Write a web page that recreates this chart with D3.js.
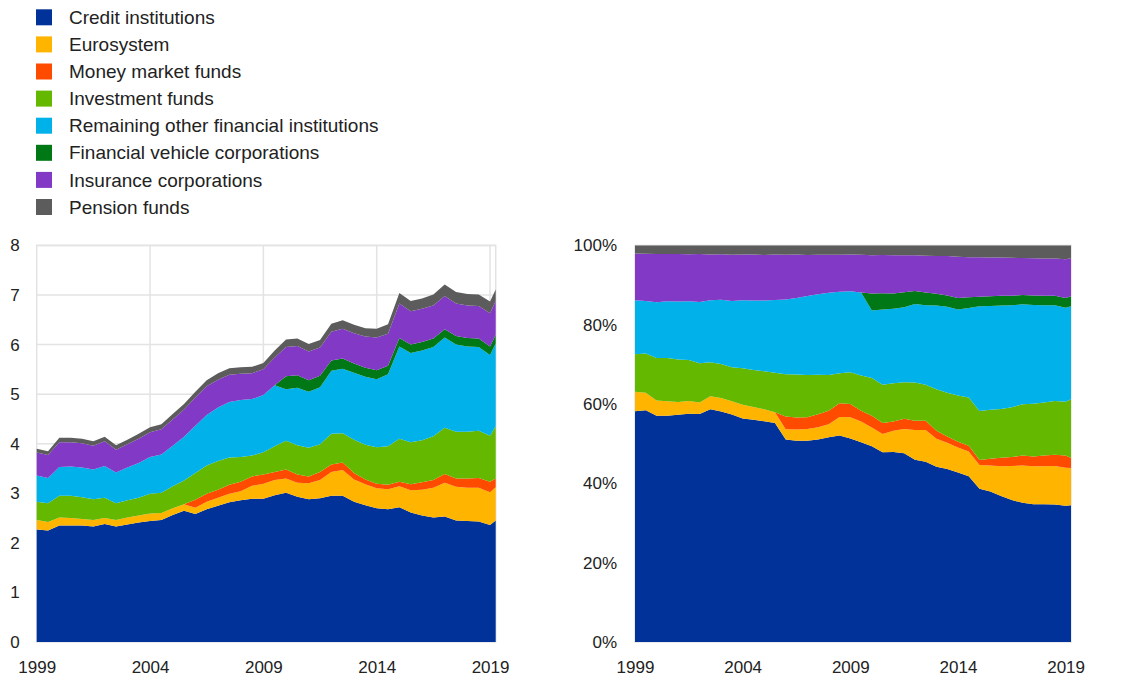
<!DOCTYPE html>
<html>
<head>
<meta charset="utf-8">
<script src="https://cdn.jsdelivr.net/npm/d3@7"></script>
<style>
  body { margin: 0; background: #fff; }
  svg { display: block; font-family: "Liberation Sans", Arial, sans-serif; }
  .axis text { fill: #222; }
  .axis .domain { display: none; }
</style>
</head>
<body>
<svg width="1121" height="679"></svg>
<script>
// half-yearly observations, last point is 2019 Q2
var dates = [1999, 1999.5, 2000, 2000.5, 2001, 2001.5, 2002, 2002.5, 2003, 2003.5,
             2004, 2004.5, 2005, 2005.5, 2006, 2006.5, 2007, 2007.5, 2008, 2008.5,
             2009, 2009.5, 2010, 2010.5, 2011, 2011.5, 2012, 2012.5, 2013, 2013.5,
             2014, 2014.5, 2015, 2015.5, 2016, 2016.5, 2017, 2017.5, 2018, 2018.5,
             2019, 2019.25];

var seriesNames = ["Credit institutions", "Eurosystem", "Money market funds", "Investment funds",
                   "Remaining other financial institutions", "Financial vehicle corporations",
                   "Insurance corporations", "Pension funds"];

var creditInstitutions = [2.27, 2.25, 2.35, 2.35, 2.35, 2.33, 2.38, 2.33, 2.37, 2.41,
                          2.44, 2.46, 2.56, 2.65, 2.58, 2.68, 2.75, 2.82, 2.86, 2.89,
                          2.89, 2.96, 3.01, 2.93, 2.88, 2.90, 2.95, 2.95, 2.83, 2.76,
                          2.70, 2.68, 2.72, 2.61, 2.55, 2.51, 2.53, 2.45, 2.44, 2.43,
                          2.36, 2.45];
var eurosystem = [0.19, 0.17, 0.16, 0.15, 0.13, 0.13, 0.12, 0.13, 0.14, 0.14,
                  0.15, 0.14, 0.14, 0.13, 0.13, 0.15, 0.16, 0.17, 0.18, 0.26,
                  0.30, 0.31, 0.29, 0.28, 0.32, 0.37, 0.48, 0.52, 0.45, 0.42,
                  0.40, 0.40, 0.42, 0.45, 0.52, 0.60, 0.68, 0.68, 0.67, 0.68,
                  0.66, 0.67];
var moneyMarketFunds = [0, 0, 0, 0, 0, 0, 0, 0, 0, 0,
                        0, 0, 0, 0, 0.16, 0.16, 0.16, 0.18, 0.19, 0.19,
                        0.19, 0.16, 0.18, 0.17, 0.14, 0.16, 0.15, 0.15, 0.13, 0.10,
                        0.09, 0.09, 0.09, 0.12, 0.15, 0.16, 0.18, 0.17, 0.19, 0.20,
                        0.21, 0.18];
var investmentFunds = [0.37, 0.38, 0.44, 0.45, 0.44, 0.42, 0.41, 0.34, 0.35, 0.36,
                       0.40, 0.41, 0.44, 0.48, 0.54, 0.57, 0.58, 0.55, 0.50, 0.42,
                       0.45, 0.52, 0.58, 0.59, 0.58, 0.56, 0.62, 0.59, 0.67, 0.70,
                       0.74, 0.78, 0.87, 0.85, 0.85, 0.88, 0.93, 0.94, 0.94, 0.95,
                       0.93, 1.05];
var remainingOfi = [0.53, 0.51, 0.58, 0.59, 0.60, 0.60, 0.64, 0.62, 0.66, 0.70,
                    0.74, 0.77, 0.82, 0.88, 0.95, 1.02, 1.08, 1.12, 1.15, 1.14,
                    1.15, 1.23, 1.04, 1.16, 1.13, 1.15, 1.27, 1.30, 1.35, 1.37,
                    1.37, 1.45, 1.86, 1.80, 1.81, 1.80, 1.82, 1.76, 1.72, 1.69,
                    1.63, 1.67];
var financialVehicles = [0, 0, 0, 0, 0, 0, 0, 0, 0, 0,
                         0, 0, 0, 0, 0, 0, 0, 0, 0, 0,
                         0, 0, 0.26, 0.25, 0.23, 0.23, 0.21, 0.21, 0.19, 0.18,
                         0.18, 0.17, 0.17, 0.17, 0.17, 0.17, 0.17, 0.17, 0.17, 0.17,
                         0.17, 0.18];
var insurance = [0.46, 0.46, 0.50, 0.49, 0.49, 0.48, 0.50, 0.46, 0.47, 0.49,
                 0.50, 0.51, 0.53, 0.55, 0.57, 0.58, 0.56, 0.55, 0.53, 0.52,
                 0.52, 0.56, 0.59, 0.59, 0.58, 0.57, 0.58, 0.60, 0.61, 0.63,
                 0.66, 0.65, 0.70, 0.67, 0.67, 0.67, 0.67, 0.66, 0.66, 0.66,
                 0.67, 0.68];
var pensionFunds = [0.08, 0.08, 0.09, 0.09, 0.09, 0.09, 0.09, 0.09, 0.09, 0.10,
                    0.10, 0.10, 0.11, 0.11, 0.12, 0.12, 0.13, 0.13, 0.13, 0.13,
                    0.13, 0.14, 0.15, 0.15, 0.15, 0.15, 0.16, 0.17, 0.17, 0.17,
                    0.18, 0.19, 0.21, 0.21, 0.21, 0.22, 0.23, 0.23, 0.23, 0.23,
                    0.24, 0.23];

var xTicks = [1999, 2004, 2009, 2014, 2019];
var leftTicks = [0, 1, 2, 3, 4, 5, 6, 7, 8];
var rightTicks = [0, 0.2, 0.4, 0.6, 0.8, 1];

var colors = ["#003299", "#ffb400", "#ff4b00", "#65b800", "#00b1ea", "#007816", "#8139c6", "#5c5c5c"];

var allSeries = [creditInstitutions, eurosystem, moneyMarketFunds, investmentFunds,
                 remainingOfi, financialVehicles, insurance, pensionFunds];

var data = dates.map(function(d, i) {
  var row = {date: d};
  seriesNames.forEach(function(k, j) { row[k] = allSeries[j][i]; });
  return row;
});

var z = d3.scaleOrdinal().domain(seriesNames).range(colors);

var svg = d3.select("svg");

// legend
var legend = svg.append("g")
  .selectAll("g")
  .data(seriesNames)
  .enter().append("g")
    .attr("transform", function(d, i) { return "translate(36," + (17.3 + i * 27.1) + ")"; });

legend.append("rect")
    .attr("x", 0)
    .attr("y", -8)
    .attr("width", 16)
    .attr("height", 16)
    .attr("fill", z);

legend.append("text")
    .attr("x", 33)
    .attr("dy", "0.35em")
    .attr("font-size", 19)
    .attr("fill", "#222")
    .text(function(d) { return d; });

function drawPanel(opts) {
  var x = d3.scaleLinear().domain([1999, 2019.25]).range(opts.xRange);
  var y = d3.scaleLinear().domain(opts.yDomain).range([642, 245.4]);

  var g = svg.append("g");

  // plot frame + grid
  g.append("rect")
      .attr("x", opts.xRange[0])
      .attr("y", y.range()[1])
      .attr("width", opts.xRange[1] - opts.xRange[0])
      .attr("height", y.range()[0] - y.range()[1])
      .attr("fill", "none")
      .attr("stroke", "#e3e3e3")
      .attr("stroke-width", 1.5);

  if (opts.grid) {
    g.append("g").selectAll("line")
      .data(opts.yTicks.slice(1))
      .enter().append("line")
        .attr("x1", opts.xRange[0])
        .attr("x2", opts.xRange[1])
        .attr("y1", function(d) { return y(d); })
        .attr("y2", function(d) { return y(d); })
        .attr("stroke", "#e3e3e3")
        .attr("stroke-width", 1.5);
    g.append("g").selectAll("line")
      .data(xTicks.slice(1))
      .enter().append("line")
        .attr("x1", function(d) { return x(d); })
        .attr("x2", function(d) { return x(d); })
        .attr("y1", y.range()[0])
        .attr("y2", y.range()[1])
        .attr("stroke", "#e3e3e3")
        .attr("stroke-width", 1.5);
  }

  var stack = d3.stack().keys(seriesNames).offset(opts.offset);

  var area = d3.area()
      .x(function(d) { return x(d.data.date); })
      .y0(function(d) { return y(d[0]); })
      .y1(function(d) { return y(d[1]); });

  g.append("g").selectAll("path")
    .data(stack(data))
    .enter().append("path")
      .attr("fill", function(d) { return z(d.key); })
      .attr("d", area);

  g.append("g")
      .attr("class", "axis")
      .attr("transform", "translate(0,642)")
      .call(d3.axisBottom(x).tickValues(xTicks).tickSize(0).tickPadding(19).tickFormat(d3.format("d")))
      .attr("font-size", 17)
      .attr("font-family", null);

  g.append("g")
      .attr("class", "axis")
      .attr("transform", "translate(" + opts.xRange[0] + ",0)")
      .call(d3.axisLeft(y).tickValues(opts.yTicks).tickSize(0).tickPadding(opts.yPad).tickFormat(opts.yFormat))
      .attr("font-size", 17)
      .attr("font-family", null);
}

drawPanel({
  xRange: [36.7, 495.7],
  yDomain: [0, 8],
  yTicks: leftTicks,
  yFormat: d3.format("d"),
  yPad: 17,
  offset: d3.stackOffsetNone,
  grid: true
});

drawPanel({
  xRange: [635, 1071],
  yDomain: [0, 1],
  yTicks: rightTicks,
  yFormat: d3.format(".0%"),
  yPad: 18,
  offset: d3.stackOffsetExpand,
  grid: false
});
</script>
</body>
</html>
